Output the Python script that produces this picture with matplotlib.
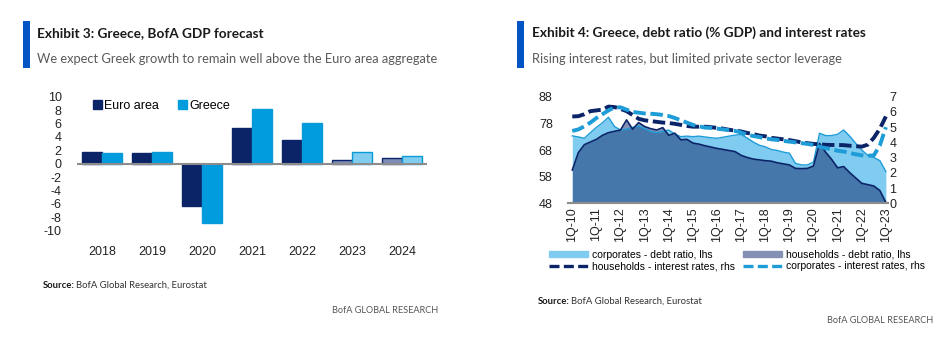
import matplotlib
matplotlib.use("Agg")
import numpy as np
import matplotlib.pyplot as plt
from matplotlib.patches import Rectangle, Patch
from matplotlib.lines import Line2D

plt.rcParams["axes.unicode_minus"] = False
HEAD = "Lato"
ARIAL = "Liberation Sans"

# Exhibit 3 data: real GDP growth, % yoy (2023-24 are forecasts)
years = ["2018", "2019", "2020", "2021", "2022", "2023", "2024"]
euro_area = [1.8, 1.6, -6.3, 5.3, 3.6, 0.6, 0.8]
greece = [1.6, 1.8, -8.8, 8.1, 6.0, 1.7, 1.2]
forecast_years = ["2023", "2024"]

# Exhibit 4 data: quarterly, 1Q-10 .. 1Q-23
quarter_labels = ["1Q-10", "1Q-11", "1Q-12", "1Q-13", "1Q-14", "1Q-15", "1Q-16",
                  "1Q-17", "1Q-18", "1Q-19", "1Q-20", "1Q-21", "1Q-22", "1Q-23"]
corp_debt = [73.3, 72.9, 72.4, 74.5, 76.5, 78.2, 80.3, 76.8, 75.5, 75.8, 76.5, 77.0,
             76.0, 75.0, 74.5, 75.0, 75.5, 74.0, 73.0, 73.2, 73.0, 73.2, 72.9, 72.6,
             72.4, 72.8, 73.2, 73.6, 73.8, 72.5, 71.0, 69.8, 69.2, 68.2, 67.8, 67.2,
             66.8, 63.0, 62.4, 62.4, 63.5, 74.3, 73.4, 73.4, 73.9, 75.5, 73.2, 70.5,
             68.0, 66.0, 65.2, 64.0, 59.9]
hh_debt = [60.5, 67.0, 70.0, 71.0, 72.0, 73.5, 74.5, 75.0, 75.5, 79.3, 75.8, 78.3,
           76.8, 76.0, 75.5, 76.4, 73.5, 74.3, 71.8, 72.0, 70.6, 70.2, 69.6, 69.1,
           68.6, 68.2, 67.8, 67.4, 66.0, 65.2, 64.6, 64.3, 64.0, 63.8, 63.2, 62.8,
           62.4, 61.1, 61.0, 61.1, 62.0, 70.5, 67.2, 64.5, 61.3, 61.8, 59.5, 57.5,
           55.5, 55.0, 54.5, 52.8, 48.3]
hh_rate = [5.70, 5.72, 5.85, 6.05, 6.10, 6.15, 6.35, 6.32, 6.20, 6.05, 5.80, 5.55,
           5.45, 5.40, 5.35, 5.30, 5.27, 5.22, 5.15, 5.08, 5.03, 5.03, 5.03, 5.00,
           4.95, 4.90, 4.83, 4.77, 4.72, 4.62, 4.55, 4.45, 4.40, 4.30, 4.25, 4.20,
           4.15, 4.08, 4.00, 3.95, 3.90, 3.88, 3.84, 3.83, 3.83, 3.82, 3.78, 3.75,
           3.72, 3.85, 4.30, 4.90, 5.70]
corp_rate = [4.75, 4.85, 5.05, 5.30, 5.60, 5.85, 6.10, 6.30, 6.30, 6.15, 6.00, 5.95,
             5.90, 5.88, 5.85, 5.80, 5.73, 5.60, 5.45, 5.30, 5.15, 5.05, 4.97, 4.95,
             4.90, 4.85, 4.80, 4.75, 4.65, 4.50, 4.42, 4.35, 4.27, 4.20, 4.16, 4.10,
             4.05, 4.00, 3.95, 3.90, 3.83, 3.72, 3.62, 3.55, 3.45, 3.40, 3.30, 3.22,
             3.15, 3.12, 3.15, 3.80, 5.00]

NAVY = "#0B2468"
BLUE = "#009CDE"
BOFA = "#0054C4"
W, H = 950, 355


def fxy(x, y):
    return x / W, 1 - y / H


fig = plt.figure(figsize=(9.5, 3.55), dpi=100)

# ---- headers
for bx, tx, title, sub in [
    (23, 37, "Exhibit 3: Greece, BofA GDP forecast",
     "We expect Greek growth to remain well above the Euro area aggregate"),
    (517, 532, "Exhibit 4: Greece, debt ratio (% GDP) and interest rates",
     "Rising interest rates, but limited private sector leverage"),
]:
    fig.patches.append(Rectangle(fxy(bx, 68), 7 / W, 47 / H, transform=fig.transFigure,
                                 color=BOFA, lw=0))
    fig.text(*fxy(tx, 37), title, family=HEAD, weight="bold", fontsize=9.8,
             color="#1a1a1a", va="baseline")
    fig.text(*fxy(tx, 63), sub, family=HEAD, fontsize=9.25, color="#5a5a5a", va="baseline")

# ---- Exhibit 3 bars
ax1 = fig.add_axes([77 / W, 1 - 230.7 / H, 350 / W, 134 / H])
x = np.arange(len(years))
bw = 0.4
eu_face = ["#7F8DB8" if y in forecast_years else NAVY for y in years]
gr_face = ["#80CDF0" if y in forecast_years else BLUE for y in years]
ax1.bar(x - bw / 2, euro_area, bw, color=eu_face, edgecolor=NAVY, lw=1)
ax1.bar(x + bw / 2, greece, bw, color=gr_face, edgecolor="#0A9AD8", lw=1)
ax1.axhline(0, color="#8c8c8c", lw=1.5, zorder=3)
ax1.set_xlim(-0.5, len(years) - 0.5)
ax1.set_ylim(-10, 10)
ax1.set_yticks(range(-10, 11, 2))
ax1.set_xticks(x)
ax1.set_xticklabels(years)
for s in ax1.spines.values():
    s.set_visible(False)
ax1.tick_params(length=0, labelsize=9, colors="#222222")
ax1.tick_params(axis="x", pad=11)
ax1.tick_params(axis="y", pad=11)
for lab in ax1.get_xticklabels() + ax1.get_yticklabels():
    lab.set_family(ARIAL)
ax1.legend(handles=[Patch(color=NAVY), Patch(color=BLUE)], labels=["Euro area", "Greece"],
           loc="center left", bbox_to_anchor=(0.046, 0.934), ncol=2, frameon=False,
           prop={"family": ARIAL, "size": 9}, handlelength=0.75, handleheight=0.75,
           handletextpad=0.15, columnspacing=1.5, borderpad=0, borderaxespad=0)

# ---- Exhibit 4 areas and lines
ax2 = fig.add_axes([568 / W, 1 - 203.3 / H, 320 / W, 106.6 / H])
q = np.arange(len(corp_debt))
ax2.fill_between(q, 48, corp_debt, color="#80CCF0", lw=0)
ax2.plot(q, corp_debt, color="#1E9CD8", lw=1)
ax2.fill_between(q, 48, hh_debt, color=NAVY, alpha=0.5, lw=0)
ax2.plot(q, hh_debt, color=NAVY, lw=1.2)
ax2.set_xlim(-0.71, 52.35)
ax2.set_ylim(48, 88)
ax2.set_yticks(range(48, 89, 10))
ax2.set_xticks(range(0, len(corp_debt), 4))
ax2.set_xticklabels(quarter_labels, rotation=90)

ax3 = ax2.twinx()
ax3.plot(q, hh_rate, color=NAVY, lw=2.8, dashes=(3.2, 1.2), dash_capstyle="butt")
ax3.plot(q, corp_rate, color="#1E9CD8", lw=2.8, dashes=(3.2, 1.2), dash_capstyle="butt")
ax3.set_ylim(0, 7)
ax3.set_yticks(range(0, 8))

for a in (ax2, ax3):
    for s in a.spines.values():
        s.set_visible(False)
    a.tick_params(length=0, labelsize=9, colors="#222222")
ax2.spines["bottom"].set_visible(True)
ax2.spines["bottom"].set_color("#8c8c8c")
ax2.spines["bottom"].set_linewidth(1.5)
ax2.tick_params(axis="y", pad=11)
ax2.tick_params(axis="x", pad=3)
ax3.tick_params(axis="y", pad=1)
for lab in ax2.get_xticklabels() + ax2.get_yticklabels() + ax3.get_yticklabels():
    lab.set_family(ARIAL)

handles = [Patch(color="#80CCF0"),
           Line2D([], [], color=NAVY, lw=2.4, dashes=(3.0, 1.3), dash_capstyle="butt"),
           Patch(color="#8491B5"),
           Line2D([], [], color="#1E9CD8", lw=2.4, dashes=(3.0, 1.3), dash_capstyle="butt")]
labels = ["corporates - debt ratio, lhs", "households - interest rates, rhs",
          "households - debt ratio, lhs", "corporates - interest rates, rhs"]
fig.legend(handles, labels, ncol=2, loc="upper left", bbox_to_anchor=fxy(549, 249.5),
           frameon=False, prop={"family": ARIAL, "size": 7.5}, handlelength=3.7,
           handleheight=0.5, handletextpad=0.4, columnspacing=0.8, labelspacing=0.15,
           borderpad=0, borderaxespad=0)

# ---- footers
renderer = fig.canvas.get_renderer()
for sx, sy, rx, ry in [(43, 288, 438, 313), (538, 304, 933, 323)]:
    t = fig.text(*fxy(sx, sy), "Source:", family=HEAD, weight="bold", fontsize=6.8,
                 color="#1a1a1a", va="baseline")
    bb = t.get_window_extent(renderer)
    fig.text(bb.x1 / W + 1.5 / W, fxy(sx, sy)[1], "BofA Global Research, Eurostat",
             family=HEAD, fontsize=6.8, color="#333333", va="baseline")
    fig.text(*fxy(rx, ry), "BofA GLOBAL RESEARCH", family=HEAD, fontsize=6.6,
             color="#555555", va="baseline", ha="right")

fig.savefig("out.png", dpi=100)
